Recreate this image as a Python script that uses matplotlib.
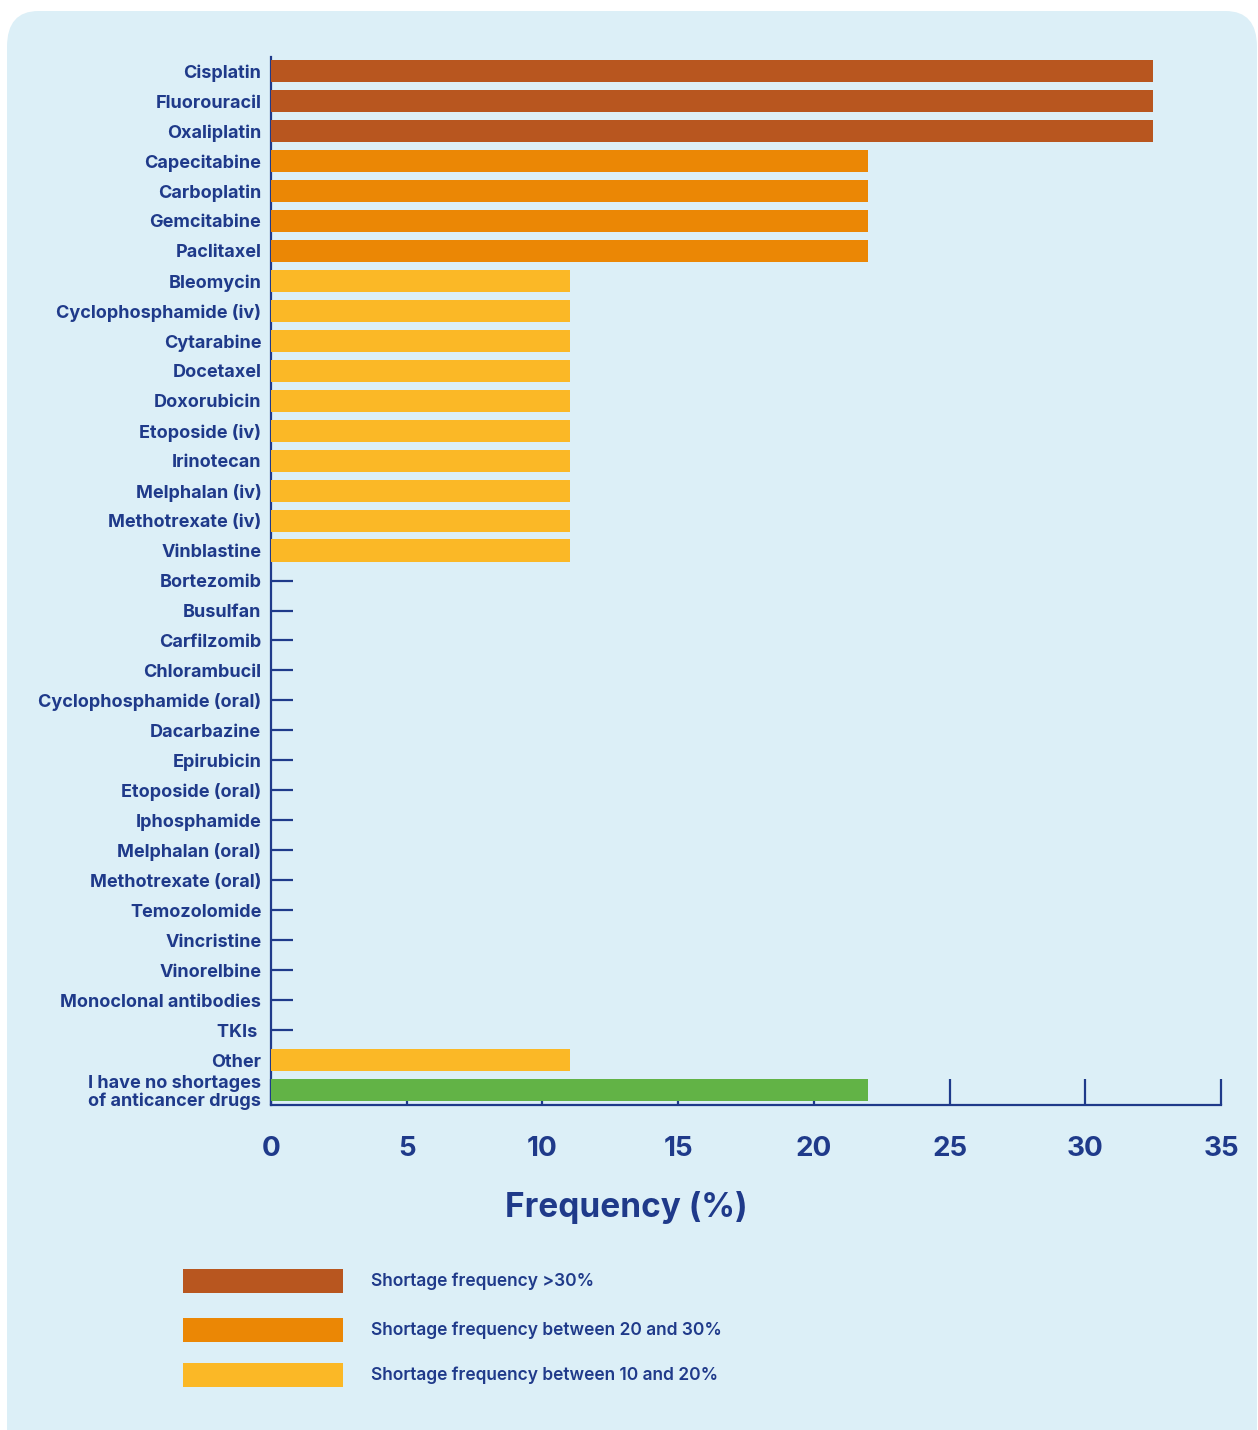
import numpy as np
import matplotlib.pyplot as plt
from matplotlib.patches import FancyBboxPatch, Rectangle

drugs = ["Cisplatin", "Fluorouracil", "Oxaliplatin", "Capecitabine", "Carboplatin",
         "Gemcitabine", "Paclitaxel", "Bleomycin", "Cyclophosphamide (iv)", "Cytarabine",
         "Docetaxel", "Doxorubicin", "Etoposide (iv)", "Irinotecan", "Melphalan (iv)",
         "Methotrexate (iv)", "Vinblastine", "Bortezomib", "Busulfan", "Carfilzomib",
         "Chlorambucil", "Cyclophosphamide (oral)", "Dacarbazine", "Epirubicin",
         "Etoposide (oral)", "Iphosphamide", "Melphalan (oral)", "Methotrexate (oral)",
         "Temozolomide", "Vincristine", "Vinorelbine", "Monoclonal antibodies", "TKIs ",
         "Other", "I have no shortages\nof anticancer drugs"]
freq = [32.5, 32.5, 32.5, 22, 22, 22, 22, 11, 11, 11, 11, 11, 11, 11, 11, 11, 11,
        0, 0, 0, 0, 0, 0, 0, 0, 0, 0, 0, 0, 0, 0, 0, 0, 11, 22]
legend_labels = ["Shortage frequency >30%", "Shortage frequency between 20 and 30%",
                 "Shortage frequency between 10 and 20%"]

c_high, c_mid, c_low, c_none = "#B8561F", "#EB8705", "#FBB826", "#62B346"
navy = "#1F3A8A"
panel = "#DCEFF7"

colors = []
for name, v in zip(drugs, freq):
    if name.startswith("I have"):
        colors.append(c_none)
    elif v > 30:
        colors.append(c_high)
    elif v > 20:
        colors.append(c_mid)
    else:
        colors.append(c_low)

plt.rcParams['font.family'] = ['Inter', 'DejaVu Sans']

fig = plt.figure(figsize=(12.58, 14.3), dpi=100)
fig.patch.set_facecolor("white")
bg = FancyBboxPatch((7 / 1258, -0.05), 1250 / 1258, 1 - 11 / 1430 + 0.05,
                    boxstyle="round,pad=0,rounding_size=0.025",
                    transform=fig.transFigure, facecolor=panel, edgecolor="none",
                    zorder=-10)
fig.patches.append(bg)

ax = fig.add_axes([271 / 1258, 1 - 1105 / 1430, 950 / 1258, (1105 - 57) / 1430])
ax.set_zorder(5)
ax.set_facecolor("none")
y = np.arange(len(drugs))
ax.barh(y, freq, height=0.74, color=colors, zorder=3)
ax.set_ylim(34.5, -0.47)
ax.set_xlim(0, 35)
ax.set_xticks(np.arange(0, 36, 5))
ax.set_yticks(y)
ax.set_yticklabels(drugs, fontsize=13, fontweight="bold", color=navy,
                   linespacing=1.05)
ax.tick_params(axis="y", direction="in", length=16, width=1.6, color=navy, pad=7)
ax.tick_params(axis="x", direction="in", length=19, width=1.6, color=navy,
               labelsize=20, labelcolor=navy, pad=22)
for lab in ax.get_xticklabels():
    lab.set_fontweight("bold")
for s in ["top", "right"]:
    ax.spines[s].set_visible(False)
for s in ["left", "bottom"]:
    ax.spines[s].set_color(navy)
    ax.spines[s].set_linewidth(1.6)
fig.text(626 / 1258, 1 - 1207 / 1430, "Frequency (%)", fontsize=24, fontweight="bold",
         color=navy, ha="center", va="center")

# legend
for i, (lab, col) in enumerate(zip(legend_labels, [c_high, c_mid, c_low])):
    yc = [1281, 1330, 1375][i]
    fig.patches.append(Rectangle((183 / 1258, 1 - (yc + 12) / 1430), 160 / 1258, 24 / 1430,
                                 transform=fig.transFigure, facecolor=col,
                                 edgecolor="none", zorder=2))
    fig.text(371 / 1258, 1 - yc / 1430, lab, fontsize=12.5, fontweight="semibold",
             color=navy, va="center", ha="left")

fig.savefig("out.png", dpi=100)
